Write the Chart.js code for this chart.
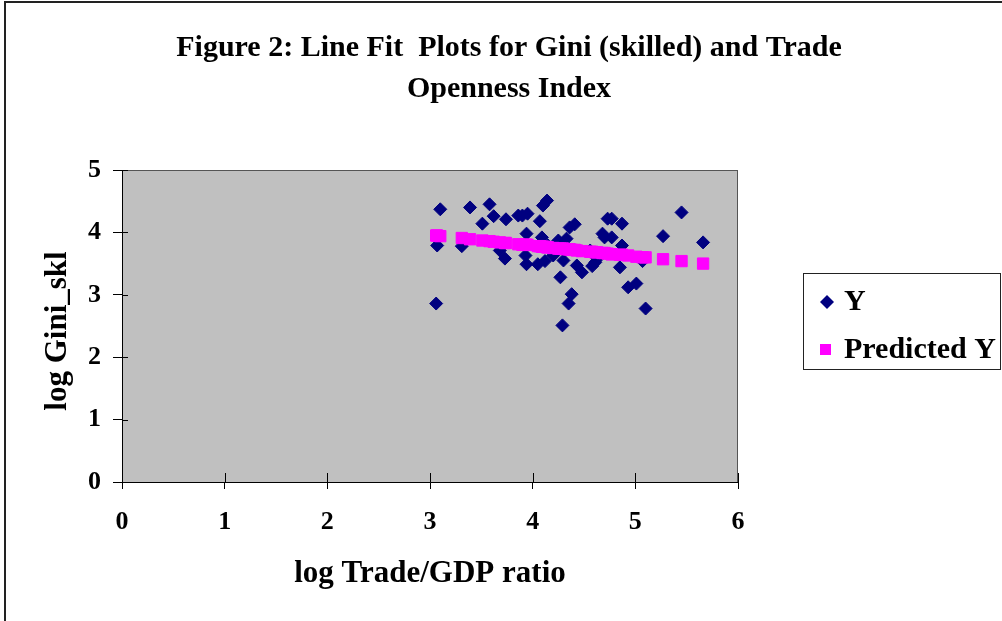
<!DOCTYPE html>
<html>
<head>
<meta charset="utf-8">
<script src="https://cdn.jsdelivr.net/npm/chart.js@4/dist/chart.umd.min.js"></script>
<style>
  html, body { margin: 0; padding: 0; background: #fff; }
  canvas { display: block; }
</style>
</head>
<body>
<canvas id="c" width="1002" height="621"></canvas>
<script>
// ---- Data ----
const titleLines = ['Figure 2: Line Fit  Plots for Gini (skilled) and Trade', 'Openness Index'];
const xAxisTitle = 'log Trade/GDP ratio';
const yAxisTitle = 'log Gini_skl';
const seriesNames = ['Y', 'Predicted Y'];

const xObs = [3.10,3.06,3.07,3.39,3.31,3.58,3.62,3.51,3.74,3.68,3.73,3.86,3.90,3.95,4.07,3.94,3.93,3.94,4.05,4.12,4.14,4.10,4.09,4.25,4.36,4.41,4.33,4.30,4.27,4.38,4.35,4.29,4.43,4.48,4.58,4.61,4.73,4.68,4.70,4.77,4.77,4.87,4.87,4.85,4.93,5.01,5.10,5.07,5.27,5.45,5.66,4.63,4.15,4.20,4.56];
const yObs = [4.37,2.86,3.79,4.40,3.78,4.45,4.26,4.14,4.21,3.71,3.58,4.27,4.27,4.30,4.18,3.98,3.63,3.49,3.49,3.54,4.51,4.43,3.92,3.87,4.08,4.13,3.90,3.55,3.28,3.01,2.86,2.51,3.47,3.36,3.46,3.52,4.22,3.98,3.92,4.22,3.92,4.14,3.79,3.44,3.12,3.18,2.78,3.54,3.94,4.32,3.84,3.58,3.79,3.63,3.71];
const yPred = [3.94,3.95,3.95,3.89,3.91,3.86,3.85,3.87,3.83,3.84,3.83,3.81,3.80,3.80,3.78,3.80,3.80,3.80,3.78,3.77,3.76,3.77,3.77,3.74,3.73,3.72,3.73,3.74,3.74,3.72,3.73,3.74,3.71,3.70,3.69,3.68,3.66,3.67,3.67,3.65,3.65,3.64,3.64,3.64,3.63,3.61,3.60,3.60,3.57,3.54,3.50,3.68,3.76,3.75,3.69];

const xTicks = [0,1,2,3,4,5,6];
const yTicks = [0,1,2,3,4,5];

// ---- Styling ----
const FONT = '"Liberation Serif", "Times New Roman", serif';
const NAVY = '#000080';
const PINK = '#FF00FF';

const decor = {
  id: 'decor',
  beforeDraw(chart) {
    const { ctx, chartArea: a } = chart;
    ctx.save();
    ctx.fillStyle = '#fff';
    ctx.fillRect(0, 0, chart.width, chart.height);
    // outer frame
    ctx.strokeStyle = '#222';
    ctx.lineWidth = 2;
    ctx.strokeRect(5, 2, chart.width + 10, chart.height + 10);
    // plot area
    ctx.fillStyle = '#C0C0C0';
    ctx.fillRect(a.left, a.top, a.right - a.left, a.bottom - a.top);
    ctx.strokeStyle = '#555';
    ctx.lineWidth = 1;
    ctx.strokeRect(a.left + 0.5, a.top + 0.5, a.right - a.left - 1, a.bottom - a.top);
    ctx.restore();
  },
  afterDraw(chart) {
    const { ctx, chartArea: a, scales } = chart;
    ctx.save();
    // inner parts of crossing tick marks
    ctx.strokeStyle = '#000';
    ctx.lineWidth = 1;
    xTicks.forEach(v => {
      const px = Math.round(scales.x.getPixelForValue(v)) + 0.5;
      ctx.beginPath(); ctx.moveTo(px, a.bottom); ctx.lineTo(px, a.bottom - 9); ctx.stroke();
    });
    yTicks.forEach(v => {
      const py = Math.round(scales.y.getPixelForValue(v)) + 0.5;
      ctx.beginPath(); ctx.moveTo(a.left, py); ctx.lineTo(a.left + 6, py); ctx.stroke();
    });
    // title
    ctx.fillStyle = '#000';
    ctx.textAlign = 'center';
    ctx.textBaseline = 'alphabetic';
    ctx.font = 'bold 30px ' + FONT;
    ctx.fillText(titleLines[0], 509, 56);
    ctx.fillText(titleLines[1], 509, 97);
    // axis titles
    ctx.font = 'bold 31px ' + FONT;
    ctx.fillText(xAxisTitle, 430, 582);
    ctx.save();
    ctx.translate(66, 331);
    ctx.rotate(-Math.PI / 2);
    ctx.fillText(yAxisTitle, 0, 0);
    ctx.restore();
    // legend
    const ds = chart.data.datasets;
    ctx.strokeStyle = '#222';
    ctx.lineWidth = 1;
    ctx.fillStyle = '#fff';
    ctx.fillRect(803, 273, 197, 96);
    ctx.strokeRect(803.5, 273.5, 197, 96);
    ctx.fillStyle = ds[0].backgroundColor;
    ctx.beginPath(); ctx.moveTo(820, 302); ctx.lineTo(827, 295); ctx.lineTo(834, 302); ctx.lineTo(827, 309); ctx.closePath(); ctx.fill();
    ctx.fillStyle = ds[1].backgroundColor;
    ctx.fillRect(820, 344, 11, 11);
    ctx.fillStyle = '#000';
    ctx.textAlign = 'left';
    ctx.font = 'bold 30px ' + FONT;
    ctx.fillText(ds[0].label, 844, 310);
    ctx.fillText(ds[1].label, 844, 358);
    ctx.restore();
  }
};

const tickFont = { family: FONT, size: 26, weight: 'bold' };

new Chart(document.getElementById('c'), {
  type: 'scatter',
  data: {
    datasets: [
      {
        label: seriesNames[0],
        data: xObs.map((x, i) => ({ x: x, y: yObs[i] })),
        pointStyle: 'rectRot',
        pointRadius: 6.5,
        pointBorderWidth: 1,
        backgroundColor: NAVY,
        borderColor: NAVY,
        order: 1
      },
      {
        label: seriesNames[1],
        data: xObs.map((x, i) => ({ x: x, y: yPred[i] })),
        pointStyle: 'rect',
        pointRadius: 8,
        pointBorderWidth: 1,
        backgroundColor: PINK,
        borderColor: PINK,
        order: 0
      }
    ]
  },
  options: {
    responsive: false,
    animation: false,
    events: [],
    layout: { padding: { top: 170, right: 264, bottom: 0, left: 0 } },
    plugins: { legend: { display: false }, title: { display: false }, tooltip: { enabled: false } },
    scales: {
      x: {
        type: 'linear', min: xTicks[0], max: xTicks[xTicks.length - 1],
        afterBuildTicks: s => { s.ticks = xTicks.map(v => ({ value: v })); },
        ticks: { color: '#000', font: tickFont, padding: 18, maxRotation: 0 },
        grid: { drawOnChartArea: false, drawTicks: true, tickLength: 7, color: '#000' },
        border: { display: true, color: '#000', width: 1 },
        afterFit: s => { s.height = 139; }
      },
      y: {
        type: 'linear', min: yTicks[0], max: yTicks[yTicks.length - 1],
        afterBuildTicks: s => { s.ticks = yTicks.map(v => ({ value: v })); },
        ticks: { color: '#000', font: tickFont, padding: 12 },
        grid: { drawOnChartArea: false, drawTicks: true, tickLength: 9, color: '#000' },
        border: { display: true, color: '#000', width: 1 },
        afterFit: s => { s.width = 122; }
      }
    }
  },
  plugins: [decor]
});
</script>
</body>
</html>
